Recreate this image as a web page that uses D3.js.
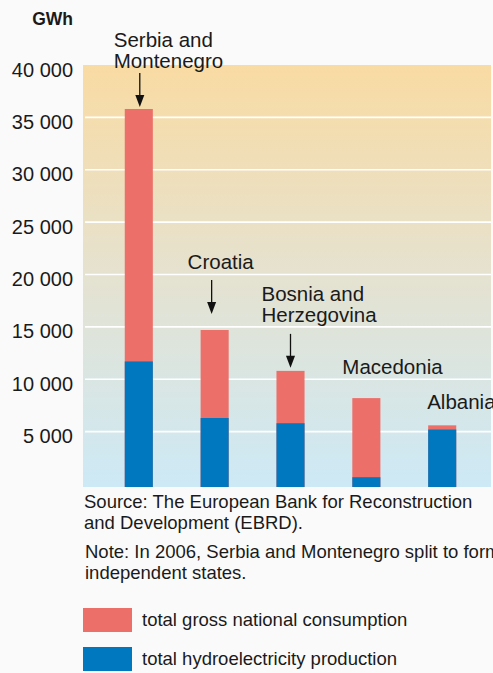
<!DOCTYPE html>
<html>
<head>
<meta charset="utf-8">
<script src="https://cdn.jsdelivr.net/npm/d3@7"></script>
<style>
  body { margin: 0; background: #fafafa; }
  svg { display: block; font-family: "Liberation Sans", Arial, sans-serif; }
</style>
</head>
<body>
<svg width="493" height="673"></svg>
<script>
// data (GWh)
var countries = ["Serbia and Montenegro", "Croatia", "Bosnia and Herzegovina", "Macedonia", "Albania"];
var consumption = [35800, 14700, 10800, 8200, 5600];
var hydro = [11700, 6300, 5800, 650, 5200];
var tickValues = [5000, 10000, 15000, 20000, 25000, 30000, 35000, 40000];
// label lines per country
var labelLines = [["Serbia and", "Montenegro"], ["Croatia"], ["Bosnia and", "Herzegovina"], ["Macedonia"], ["Albania"]];
var hasArrow = [true, true, true, false, false];

var svg = d3.select("svg");
var W = +svg.attr("width"), H = +svg.attr("height");

var plot = {left: 83, right: 491, top: 65, bottom: 487};

var x = d3.scaleBand()
    .domain(countries)
    .range([102, 479])
    .paddingInner(0.63)
    .paddingOuter(0.3);

var y = d3.scaleLinear()
    .domain([0, 40000])
    .range([484, 65]);

var red = "#ec6f69", blue = "#0078c0";

svg.append("rect").attr("width", W).attr("height", H).attr("fill", "#fafafa");

// gradient background
var defs = svg.append("defs");
var grad = defs.append("linearGradient").attr("id", "bg")
    .attr("x1", 0).attr("y1", 0).attr("x2", 0).attr("y2", 1);
grad.append("stop").attr("offset", "0%").attr("stop-color", "#f9dba3");
grad.append("stop").attr("offset", "50%").attr("stop-color", "#e5e2d0");
grad.append("stop").attr("offset", "100%").attr("stop-color", "#cde9f6");

svg.append("rect")
    .attr("x", plot.left).attr("y", plot.top)
    .attr("width", plot.right - plot.left).attr("height", plot.bottom - plot.top)
    .attr("fill", "url(#bg)");

// gridlines
svg.selectAll("line.grid")
  .data(tickValues.filter(function(d) { return d < 40000; }))
  .enter().append("line")
    .attr("class", "grid")
    .attr("x1", 85).attr("x2", plot.right)
    .attr("y1", function(d) { return y(d); })
    .attr("y2", function(d) { return y(d); })
    .attr("stroke", "#fff").attr("stroke-width", 1.6);

// y axis labels
var fmt = function(d) { return d3.format(",")(d).replace(",", " "); };
svg.selectAll("text.tick")
  .data(tickValues)
  .enter().append("text")
    .attr("class", "tick")
    .attr("x", 73)
    .attr("y", function(d) { return y(d) + 11.5; })
    .attr("text-anchor", "end")
    .attr("font-size", 20)
    .attr("fill", "#1a1a1a")
    .text(fmt);

svg.append("text")
    .attr("x", 73).attr("y", 25)
    .attr("text-anchor", "end")
    .attr("font-size", 17.5).attr("font-weight", "bold")
    .attr("fill", "#1a1a1a")
    .text("GWh");

// bars: consumption (red) behind, hydro (blue) in front
svg.selectAll("rect.cons")
  .data(countries)
  .enter().append("rect")
    .attr("class", "cons")
    .attr("x", function(d) { return x(d); })
    .attr("width", x.bandwidth())
    .attr("y", function(d, i) { return y(consumption[i]); })
    .attr("height", function(d, i) { return plot.bottom - y(consumption[i]); })
    .attr("fill", red);

svg.selectAll("rect.hydro")
  .data(countries)
  .enter().append("rect")
    .attr("class", "hydro")
    .attr("x", function(d) { return x(d); })
    .attr("width", x.bandwidth())
    .attr("y", function(d, i) { return y(hydro[i]); })
    .attr("height", function(d, i) { return plot.bottom - y(hydro[i]); })
    .attr("fill", blue);

// country labels + arrows (layout tweaks per label)
var labelDx = [-11, -13, -15, -10, -1];     // label x relative to bar left
var labelDy = [41, 61, 49, 24, 16];         // last baseline above bar top
var arrowGap = [2, 16, 3, 0, 0];            // arrow tip above bar top
var arrowDx = [1, -3, 0, 0, 0];             // arrow x relative to bar centre
var arrowLen = 34;
var lineH = 21;

countries.forEach(function(c, i) {
  var top = y(consumption[i]);
  var cx = x(c) + x.bandwidth() / 2;
  var lines = labelLines[i];
  var lastBase = top - labelDy[i];
  var g = svg.append("g");
  lines.forEach(function(t, j) {
    g.append("text")
      .attr("x", x(c) + labelDx[i])
      .attr("y", lastBase - (lines.length - 1 - j) * lineH)
      .attr("font-size", 20.5)
      .attr("fill", "#1a1a1a")
      .text(t);
  });
  if (hasArrow[i]) {
    var ax = cx + arrowDx[i];
    var tip = top - arrowGap[i];
    g.append("line")
      .attr("x1", ax).attr("x2", ax)
      .attr("y1", tip - arrowLen).attr("y2", tip - 8)
      .attr("stroke", "#111").attr("stroke-width", 1.3);
    g.append("path")
      .attr("d", "M" + (ax - 4.5) + "," + (tip - 12) + "L" + (ax + 4.5) + "," + (tip - 12) + "L" + ax + "," + tip + "Z")
      .attr("fill", "#111");
  }
});

// source and note
var notes = [
  {x: 84, y: 508, t: "Source: The European Bank for Reconstruction"},
  {x: 84, y: 529, t: "and Development (EBRD)."},
  {x: 85, y: 558, t: "Note: In 2006, Serbia and Montenegro split to form"},
  {x: 85, y: 579, t: "independent states."}
];
svg.selectAll("text.note")
  .data(notes)
  .enter().append("text")
    .attr("class", "note")
    .attr("x", function(d) { return d.x; })
    .attr("y", function(d) { return d.y; })
    .attr("font-size", 18.5)
    .attr("fill", "#1a1a1a")
    .text(function(d) { return d.t; });

// legend
var legend = [
  {label: "total gross national consumption", color: red},
  {label: "total hydroelectricity production", color: blue}
];
var lg = svg.selectAll("g.legend")
  .data(legend)
  .enter().append("g")
    .attr("class", "legend")
    .attr("transform", function(d, i) { return "translate(83," + (608 + i * 39) + ")"; });
lg.append("rect")
    .attr("width", 49).attr("height", 24)
    .attr("fill", function(d) { return d.color; });
lg.append("text")
    .attr("x", 59).attr("y", 18)
    .attr("font-size", 18.5)
    .attr("fill", "#1a1a1a")
    .text(function(d) { return d.label; });
</script>
</body>
</html>
